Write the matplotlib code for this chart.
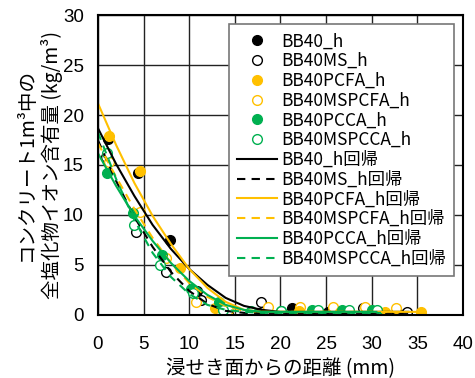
import matplotlib.pyplot as plt

plt.rcParams['font.family'] = ['Liberation Sans', 'Noto Sans CJK JP', 'DejaVu Sans']

orange = '#FFC000'
green = '#00B050'

# measured points (depth mm, chloride kg/m3)
bb40_x = [1.1, 4.4, 7.9, 10.9, 17.7, 21.3, 25.2, 29.4, 32.8]
bb40_y = [17.6, 14.2, 7.5, 2.4, 0.2, 0.7, 0.3, 0.6, 0.3]
bb40ms_x = [0.9, 4.2, 7.5, 11.3, 14.2, 17.9, 21.9, 25.6, 29.0, 33.9]
bb40ms_y = [15.8, 8.3, 4.3, 1.5, 0.2, 1.3, 0.4, 0.4, 0.7, 0.3]
pcfa_x = [1.2, 4.6, 9.0, 12.8, 22.0, 26.5, 31.4, 35.4]
pcfa_y = [17.9, 14.4, 4.7, 0.7, 0.4, 0.3, 0.3, 0.3]
mspcfa_x = [1.2, 4.6, 7.5, 10.8, 14.2, 18.6, 22.1, 25.7, 29.2, 32.6]
mspcfa_y = [15.3, 10.3, 5.7, 1.3, 0.5, 0.8, 0.8, 0.8, 0.8, 0.7]
pcca_x = [1.0, 3.8, 7.0, 10.2, 13.3, 16.8, 20.1, 23.4, 26.7, 30.0]
pcca_y = [14.2, 10.2, 6.0, 2.6, 1.3, 0.4, 0.4, 0.5, 0.5, 0.5]
mspcca_x = [1.0, 4.0, 6.8, 10.4, 13.7, 16.8, 20.1, 24.1, 27.5, 30.6]
mspcca_y = [16.2, 9.0, 5.0, 2.2, 0.5, 0.3, 0.4, 0.5, 0.5, 0.5]

# regression curves
fit_x = [0, 2, 4, 6, 8, 10, 12, 14, 16, 18, 20, 25, 30]
bb40_fit = [18.7, 15.1, 11.9, 9.0, 6.6, 4.6, 3.0, 1.7, 0.9, 0.5, 0.3, 0.3, 0.3]
bb40ms_fit = [17.5, 13.4, 9.8, 6.8, 4.3, 2.4, 1.1, 0.4, 0.2, 0.2, 0.2, 0.2, 0.2]
pcfa_fit = [21.2, 17.0, 13.2, 9.9, 7.1, 4.6, 2.7, 1.3, 0.5, 0.3, 0.3, 0.3, 0.3]
mspcfa_fit = [17.2, 13.8, 10.6, 7.7, 5.2, 3.2, 1.8, 0.9, 0.4, 0.3, 0.3, 0.3, 0.3]
pcca_fit = [16.2, 12.9, 9.9, 7.4, 5.2, 3.4, 2.0, 1.0, 0.5, 0.3, 0.3, 0.3, 0.3]
mspcca_fit = [18.3, 13.6, 9.5, 6.2, 3.8, 2.1, 1.0, 0.5, 0.3, 0.2, 0.2, 0.2, 0.2]
bb40_end = [34.0, 0.3]
bb40ms_end = [34.0, 0.2]
pcfa_end = [35.5, 0.3]
mspcfa_end = [33.0, 0.3]
pcca_end = [30.5, 0.3]
mspcca_end = [31.0, 0.2]

fig = plt.figure(figsize=(4.75, 3.78), dpi=100)
ax = fig.add_axes([0.206, 0.167, 0.769, 0.793])

ms = 7
handles = []
handles += ax.plot(bb40_x, bb40_y, 'o', color='black', ms=ms, label='BB40_h')
handles += ax.plot(bb40ms_x, bb40ms_y, 'o', mfc='white', mec='black', ms=ms, mew=1, label='BB40MS_h')
handles += ax.plot(mspcfa_x, mspcfa_y, 'o', mfc='white', mec=orange, ms=ms, mew=1, label='BB40MSPCFA_h')
handles += ax.plot(pcfa_x, pcfa_y, 'o', color=orange, ms=ms, label='BB40PCFA_h')
handles += ax.plot(pcca_x, pcca_y, 'o', color=green, ms=ms, label='BB40PCCA_h')
handles += ax.plot(mspcca_x, mspcca_y, 'o', mfc='white', mec=green, ms=ms, mew=1, label='BB40MSPCCA_h')
# legend order: filled PCFA before open MSPCFA
handles[2], handles[3] = handles[3], handles[2]

curves = [
    (bb40_fit, bb40_end, 'black', '-', 'BB40_h回帰'),
    (bb40ms_fit, bb40ms_end, 'black', '--', 'BB40MS_h回帰'),
    (pcfa_fit, pcfa_end, orange, '-', 'BB40PCFA_h回帰'),
    (mspcfa_fit, mspcfa_end, orange, '--', 'BB40MSPCFA_h回帰'),
    (pcca_fit, pcca_end, green, '-', 'BB40PCCA_h回帰'),
    (mspcca_fit, mspcca_end, green, '--', 'BB40MSPCCA_h回帰'),
]
for fy, end, c, ls, lab in curves:
    xs = [x for x in fit_x if x < end[0]] + [end[0]]
    ys = fy[:len(xs) - 1] + [end[1]]
    line, = ax.plot(xs, ys, color=c, ls=ls, lw=1.5, label=lab,
                    dashes=(4, 3) if ls == '--' else (None, None))
    handles.append(line)

ax.set_xlim(0, 40)
ax.set_ylim(0, 30)
ax.set_xticks(range(0, 41, 5))
ax.set_yticks(range(0, 31, 5))
ax.grid(True, color='#222222', lw=1)
ax.set_axisbelow(True)
ax.tick_params(length=0, labelsize=13.5)
ax.tick_params(axis='x', pad=15)
ax.tick_params(axis='y', pad=10)
for s in ax.spines.values():
    s.set_linewidth(1.5)

cjk = ['Noto Sans CJK JP', 'DejaVu Sans']
ax.set_xlabel('浸せき面からの距離 (mm)', family=cjk, fontsize=14, labelpad=4)
ax.set_ylabel('コンクリート1m³中の\n全塩化物イオン含有量 (kg/m³)', family=cjk, fontsize=14,
              linespacing=1.25, labelpad=0)

leg = ax.legend(handles=handles, loc='upper right', prop={'family': cjk, 'size': 12.5},
                fancybox=False, edgecolor='#777777', framealpha=1,
                labelspacing=0.1, handlelength=2.3, handletextpad=0.2,
                borderaxespad=0.5, borderpad=0.5)
leg.get_frame().set_linewidth(1.2)

fig.savefig('out.png', dpi=100)
